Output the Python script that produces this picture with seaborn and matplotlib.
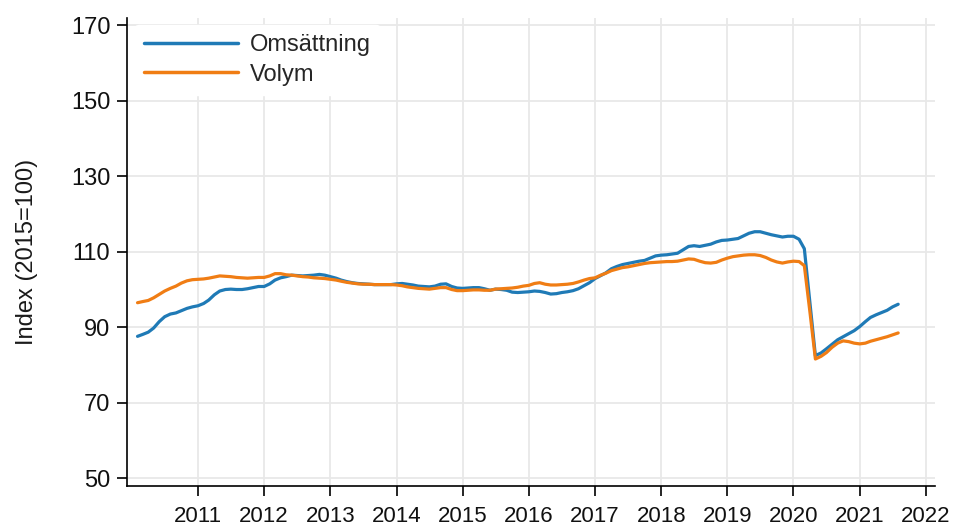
import matplotlib
matplotlib.use("Agg")
import matplotlib.dates as mdates
import matplotlib.pyplot as plt
import numpy as np
import pandas as pd
import seaborn as sns

# monthly index values, Feb 2010 - Aug 2021 (2015=100)
start_month = "2010-02-01"

omsattning = [
    87.6, 88.1, 88.7, 89.8, 91.5, 92.8, 93.5, 93.8, 94.4, 95.0, 95.4,
    95.7, 96.3, 97.2, 98.6, 99.6, 100.0, 100.1, 100.0, 100.0, 100.2, 100.5, 100.8,
    100.8, 101.5, 102.5, 103.1, 103.4, 103.8, 103.7, 103.6, 103.7, 103.8, 104.0, 103.8,
    103.4, 103.0, 102.5, 102.1, 101.8, 101.6, 101.5, 101.4, 101.3, 101.3, 101.3, 101.3,
    101.5, 101.6, 101.4, 101.2, 100.9, 100.8, 100.7, 100.9, 101.4, 101.5, 100.8, 100.4,
    100.3, 100.4, 100.5, 100.5, 100.2, 99.8, 100.1, 100.0, 99.8, 99.3, 99.2, 99.3,
    99.4, 99.6, 99.5, 99.2, 98.8, 98.9, 99.2, 99.4, 99.7, 100.2, 101.0, 101.8,
    102.9, 103.7, 104.4, 105.5, 106.1, 106.6, 106.9, 107.2, 107.5, 107.7, 108.3, 108.9,
    109.1, 109.2, 109.4, 109.6, 110.5, 111.4, 111.6, 111.4, 111.7, 112.0, 112.6, 113.0,
    113.1, 113.3, 113.5, 114.2, 114.9, 115.3, 115.3, 114.9, 114.5, 114.2, 113.9, 114.1,
    114.1, 113.3, 110.8, 96.5, 82.5, 83.2, 84.3, 85.5, 86.7, 87.5, 88.3, 89.1,
    90.2, 91.5, 92.6, 93.3, 93.9, 94.5, 95.4, 96.1,
]

volym = [
    96.5, 96.8, 97.1, 97.8, 98.7, 99.6, 100.3, 100.9, 101.7, 102.3, 102.6,
    102.7, 102.8, 103.0, 103.3, 103.6, 103.5, 103.4, 103.2, 103.1, 103.0, 103.1, 103.2,
    103.2, 103.6, 104.2, 104.2, 103.9, 103.8, 103.6, 103.4, 103.3, 103.1, 103.0, 102.9,
    102.7, 102.5, 102.2, 101.9, 101.7, 101.5, 101.4, 101.4, 101.3, 101.3, 101.3, 101.3,
    101.2, 101.0, 100.7, 100.5, 100.3, 100.2, 100.1, 100.3, 100.5, 100.5, 100.0, 99.7,
    99.7, 99.8, 99.9, 99.9, 99.8, 99.8, 100.1, 100.2, 100.3, 100.4, 100.6, 100.9,
    101.1, 101.6, 101.8, 101.4, 101.2, 101.2, 101.3, 101.4, 101.6, 102.0, 102.5, 102.9,
    103.1, 103.8, 104.3, 105.0, 105.4, 105.8, 106.0, 106.3, 106.6, 106.9, 107.1, 107.2,
    107.3, 107.4, 107.4, 107.5, 107.8, 108.1, 108.0, 107.5, 107.1, 107.0, 107.2, 107.8,
    108.3, 108.7, 108.9, 109.1, 109.2, 109.2, 109.0, 108.5, 107.8, 107.3, 107.0, 107.3,
    107.5, 107.4, 106.3, 94.0, 81.6, 82.3, 83.3, 84.7, 85.8, 86.4, 86.2, 85.8,
    85.6, 85.8, 86.3, 86.7, 87.1, 87.5, 88.0, 88.5,
]

series_names = ["Omsättning", "Volym"]
tick_years = list(range(2011, 2023))
y_ticks = [50, 70, 90, 110, 130, 150, 170]

months = pd.date_range(start_month, periods=len(omsattning), freq="MS")
df = pd.DataFrame({"month": months, "Omsättning": omsattning, "Volym": volym})
long_df = df.melt(id_vars="month", value_vars=series_names, var_name="serie", value_name="index")

sns.set_theme(style="whitegrid")
plt.rcParams["font.family"] = ["Liberation Sans", "DejaVu Sans"]

fig = plt.figure(figsize=(9.55, 5.28), dpi=100)
ax = fig.add_axes([0.133, 0.079, 0.846, 0.887])

sns.lineplot(
    data=long_df,
    x="month",
    y="index",
    hue="serie",
    palette={"Omsättning": "#1f7ab6", "Volym": "#f07d14"},
    linewidth=2.3,
    ax=ax,
)

ax.set_ylim(47.9, 171.9)
ax.set_yticks(y_ticks)
ax.set_xlim(pd.Timestamp("2009-12-05"), pd.Timestamp("2022-02-20"))
ax.set_xticks([pd.Timestamp(f"{y}-01-01") for y in tick_years])
ax.xaxis.set_major_formatter(mdates.DateFormatter("%Y"))

ax.set_xlabel("")
ax.set_ylabel("Index (2015=100)", fontsize=17, labelpad=24, color="#1a1a1a")

ax.grid(True, color="#e8e8e8", linewidth=1.3)
for side in ["top", "right"]:
    ax.spines[side].set_visible(False)
for side in ["left", "bottom"]:
    ax.spines[side].set_color("black")
    ax.spines[side].set_linewidth(1.2)
ax.tick_params(axis="both", direction="out", length=7, width=1.2, color="black",
               labelcolor="#111111", left=True, bottom=True)
ax.tick_params(axis="x", pad=7, labelsize=16)
ax.tick_params(axis="y", pad=5, labelsize=17)

legend = ax.legend(
    loc="upper left",
    frameon=True,
    fontsize=17,
    handlelength=4.0,
    handletextpad=0.5,
    labelspacing=0.3,
    borderaxespad=0.3,
    title=None,
)
legend.get_frame().set_facecolor("white")
legend.get_frame().set_edgecolor("white")
legend.get_frame().set_alpha(1.0)
for line in legend.get_lines():
    line.set_linewidth(2.5)

fig.savefig("out.png", dpi=100)
plt.close(fig)
